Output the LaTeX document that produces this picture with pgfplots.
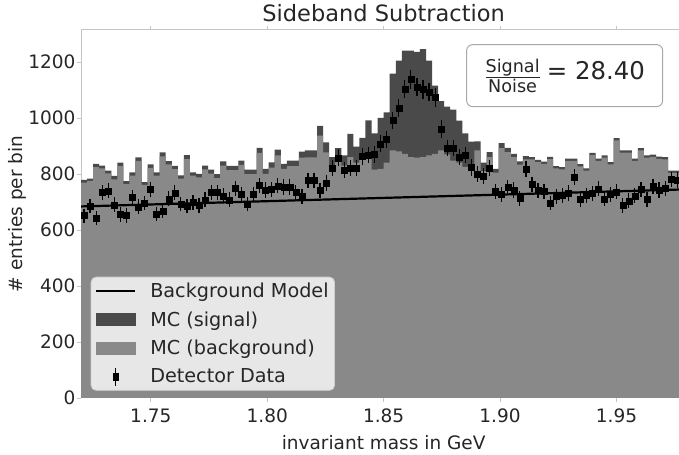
\documentclass[border=0pt]{standalone}
\usepackage{fontspec}
\setmainfont{DejaVu Sans}
\usepackage{amsmath}
\usepackage{pgfplots}
\usepackage{pgfplotstable}
\pgfplotsset{compat=1.18}
\definecolor{sigc}{HTML}{4A4A4A}
\definecolor{bgc}{HTML}{898989}
\definecolor{spine}{HTML}{C4C4C4}
\definecolor{textc}{HTML}{262626}
\definecolor{legfill}{HTML}{E7E7E7}
\definecolor{legdraw}{HTML}{CFCFCF}
\definecolor{boxdraw}{HTML}{A8A8A8}

\pgfplotstableread{
l t b
1.7200 779 769
1.7226 783 775
1.7252 836 824
1.7278 830 820
1.7304 812 802
1.7330 793 781
1.7356 840 828
1.7382 774 764
1.7408 806 794
1.7434 859 847
1.7460 771 761
1.7486 834 822
1.7512 806 794
1.7538 877 863
1.7564 846 834
1.7590 829 817
1.7616 795 783
1.7642 867 853
1.7668 806 794
1.7694 800 788
1.7720 830 816
1.7746 815 801
1.7772 799 785
1.7798 845 830
1.7824 829 814
1.7850 829 814
1.7876 848 832
1.7902 815 799
1.7928 815 799
1.7954 893 875
1.7980 818 800
1.8006 841 823
1.8032 887 866
1.8058 836 818
1.8084 848 828
1.8110 848 828
1.8136 880 858
1.8162 884 859
1.8188 884 859
1.8214 972 937
1.8240 913 877
1.8266 860 830
1.8292 892 850
1.8318 866 830
1.8344 943 860
1.8370 898 840
1.8396 929 850
1.8422 991 860
1.8448 945 815
1.8474 1000 818
1.8500 1020 840
1.8526 1158 884
1.8552 1205 881
1.8578 1240 872
1.8604 1240 860
1.8630 1236 858
1.8656 1246 860
1.8682 1205 866
1.8708 1115 872
1.8734 1060 884
1.8760 1040 870
1.8786 1030 848
1.8812 990 840
1.8838 945 825
1.8864 915 825
1.8890 916 884
1.8916 840 810
1.8942 878 860
1.8968 818 805
1.8994 910 892
1.9020 893 878
1.9046 872 860
1.9072 845 833
1.9098 864 852
1.9124 860 852
1.9150 850 842
1.9176 844 836
1.9202 861 853
1.9228 828 820
1.9254 824 816
1.9280 855 847
1.9306 855 847
1.9332 835 827
1.9358 820 812
1.9384 875 867
1.9410 855 847
1.9436 866 858
1.9462 842 834
1.9488 928 920
1.9514 884 876
1.9540 884 876
1.9566 855 847
1.9592 892 884
1.9618 866 858
1.9644 869 861
1.9670 862 854
1.9696 860 852
1.9722 812 804
1.9748 812 804
1.9774 812 804
1.9800 812 804
}\histtab

\pgfplotstableread{
c d e
1.7213 651 25.5
1.7239 685 26.2
1.7265 642 25.3
1.7291 735 27.1
1.7317 740 27.2
1.7343 690 26.3
1.7369 655 25.6
1.7395 652 25.5
1.7421 716 26.8
1.7447 683 26.1
1.7473 696 26.4
1.7499 745 27.3
1.7525 658 25.7
1.7551 667 25.8
1.7577 711 26.7
1.7603 733 27.1
1.7629 693 26.3
1.7655 685 26.2
1.7681 698 26.4
1.7707 687 26.2
1.7733 708 26.6
1.7759 735 27.1
1.7785 735 27.1
1.7811 722 26.9
1.7837 708 26.6
1.7863 749 27.4
1.7889 727 27.0
1.7915 693 26.3
1.7941 726 26.9
1.7967 759 27.5
1.7993 743 27.3
1.8019 745 27.3
1.8045 758 27.5
1.8071 753 27.4
1.8097 753 27.4
1.8123 735 27.1
1.8149 721 26.9
1.8175 777 27.9
1.8201 777 27.9
1.8227 741 27.2
1.8253 768 27.7
1.8279 822 28.7
1.8305 858 29.3
1.8331 815 28.5
1.8357 822 28.7
1.8383 822 28.7
1.8409 862 29.4
1.8435 867 29.4
1.8461 869 29.5
1.8487 908 30.1
1.8513 923 30.4
1.8539 991 31.5
1.8565 1036 32.2
1.8591 1104 33.2
1.8617 1138 33.7
1.8643 1110 33.3
1.8669 1101 33.2
1.8695 1092 33.0
1.8721 1073 32.8
1.8747 961 31.0
1.8773 893 29.9
1.8799 893 29.9
1.8825 860 29.3
1.8851 868 29.5
1.8877 823 28.7
1.8903 800 28.3
1.8929 792 28.1
1.8955 820 28.6
1.8981 737 27.1
1.9007 726 26.9
1.9033 751 27.4
1.9059 743 27.3
1.9085 713 26.7
1.9111 818 28.6
1.9137 763 27.6
1.9163 741 27.2
1.9189 737 27.1
1.9215 696 26.4
1.9241 720 26.8
1.9267 723 26.9
1.9293 732 27.1
1.9319 789 28.1
1.9345 709 26.6
1.9371 723 26.9
1.9397 731 27.0
1.9423 747 27.3
1.9449 711 26.7
1.9475 728 27.0
1.9501 736 27.1
1.9527 687 26.2
1.9553 704 26.5
1.9579 722 26.9
1.9605 744 27.3
1.9631 709 26.6
1.9657 755 27.5
1.9683 743 27.3
1.9709 749 27.4
1.9735 780 27.9
1.9761 779 27.9
1.9787 775 27.8
}\datatab

\begin{document}
\begin{tikzpicture}
\begin{axis}[
  at={(81bp,57bp)}, anchor=south west,
  scale only axis, width=605.3bp, height=368bp,
  xmin=1.72, xmax=1.98, ymin=0, ymax=1314,
  xtick={1.75,1.80,1.85,1.90,1.95},
  ytick={0,200,400,600,800,1000,1200},
  every tick label/.append style={font=\fontsize{18.5bp}{22bp}\selectfont, text=textc},
  xticklabel style={yshift=-3bp, /pgf/number format/.cd, fixed, fixed zerofill, precision=2},
  yticklabel style={xshift=2bp, /pgf/number format/.cd, 1000 sep={}},
  /pgf/number format/assume math mode=true,
  tick align=outside, major tick length=4bp,
  tick style={spine, line width=0.8bp},
  axis line style={spine, line width=1bp},
  title={Sideband Subtraction},
  title style={at={(axis description cs:0.5,1.029)}, anchor=center, font=\fontsize{22.5bp}{26bp}\selectfont, text=textc},
  xlabel={invariant mass in GeV},
  xlabel style={at={(axis description cs:0.5,-0.121)}, anchor=center, font=\fontsize{18.5bp}{22bp}\selectfont, text=textc},
  ylabel={\# entries per bin},
  ylabel style={at={(axis description cs:-0.1057,0.5)}, anchor=center, rotate=0, font=\fontsize{18.5bp}{22bp}\selectfont, text=textc},
  legend cell align=left,
  legend style={at={(axis description cs:0.016,0.0198)}, anchor=south west,
    font=\fontsize{19.2bp}{23bp}\selectfont, text=textc,
    fill=legfill, draw=legdraw, line width=0.8bp, rounded corners=5bp,
    inner xsep=4bp, inner ysep=4bp, row sep=8.5bp, column sep=12bp},
]
\addlegendimage{legend image code/.code={\draw[sharp corners,black,line width=2.2bp] (0bp,0bp) -- (39bp,0bp);}}
\addlegendentry{Background Model}
\addlegendimage{legend image code/.code={\fill[sharp corners,sigc] (0bp,-6bp) rectangle (39bp,6bp);}}
\addlegendentry{MC (signal)}
\addlegendimage{legend image code/.code={\fill[sharp corners,bgc] (0bp,-6bp) rectangle (39bp,6bp);}}
\addlegendentry{MC (background)}
\addlegendimage{legend image code/.code={\draw[sharp corners,black,line width=1.2bp] (19.5bp,-9bp) -- (19.5bp,9bp); \fill[sharp corners,black] (17bp,-3.5bp) rectangle (22bp,3.5bp);}}
\addlegendentry{Detector Data}

\addplot[fill=sigc, draw=none, const plot, forget plot] table[x=l,y=t]{\histtab} \closedcycle;
\addplot[fill=bgc, draw=none, const plot, forget plot] table[x=l,y=b]{\histtab} \closedcycle;
\addplot[black, line width=2.2bp, forget plot] coordinates {(1.72,684) (1.98,745)};
\addplot[only marks, mark=square*, mark size=3bp, black, forget plot,
  error bars/.cd, y dir=both, y explicit, error mark=none,
  error bar style={line width=1.2bp, black}]
  table[x=c, y=d, y error=e]{\datatab};

\node[draw=boxdraw, line width=1bp, fill=white, rounded corners=6bp,
  minimum width=196bp, minimum height=62bp, inner sep=0pt, text=textc]
  at (axis description cs:0.799,0.876)
  {$\dfrac{\text{\fontsize{17.6bp}{19bp}\selectfont Signal}}{\text{\fontsize{17.6bp}{19bp}\selectfont Noise}}$\hspace{6bp}{\fontsize{24.4bp}{28bp}\selectfont = 28.40}};
\end{axis}
\pgfresetboundingbox
\path[use as bounding box] (0,0) rectangle (679bp,455bp);
\end{tikzpicture}
\end{document}
